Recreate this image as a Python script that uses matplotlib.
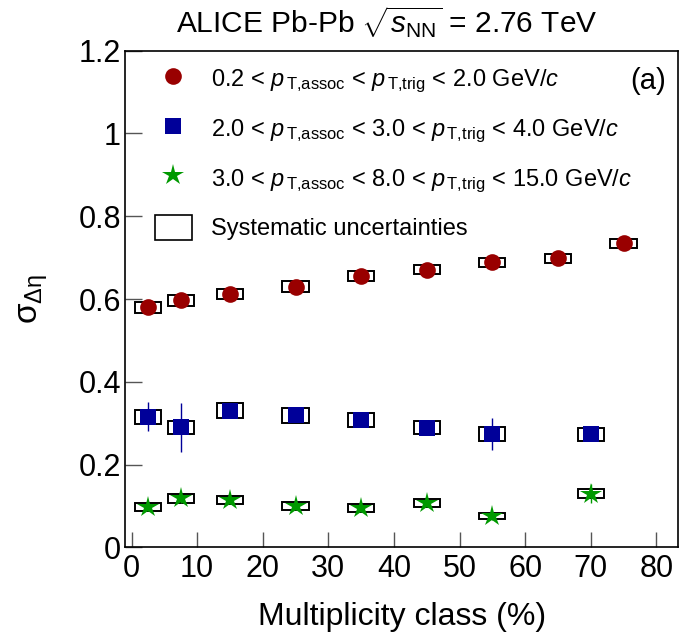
import matplotlib
matplotlib.use('Agg')
import matplotlib.pyplot as plt
import numpy as np
from matplotlib.lines import Line2D
from matplotlib.patches import Rectangle
from matplotlib.ticker import FuncFormatter

plt.rcParams['font.family'] = ['Liberation Sans', 'DejaVu Sans']
plt.rcParams['mathtext.fontset'] = 'custom'
plt.rcParams['mathtext.rm'] = 'Liberation Sans'
plt.rcParams['mathtext.it'] = 'Liberation Sans:italic'
plt.rcParams['mathtext.bf'] = 'Liberation Sans:bold'

# near-side peak width vs centrality, three pT bins
x_low = [2.5, 7.5, 15, 25, 35, 45, 55, 65, 75]
sig_low = [0.580, 0.597, 0.612, 0.630, 0.656, 0.671, 0.689, 0.699, 0.735]
stat_low = [0.005, 0.005, 0.005, 0.005, 0.005, 0.005, 0.005, 0.005, 0.005]
sys_low = [0.014, 0.013, 0.013, 0.013, 0.012, 0.011, 0.011, 0.011, 0.011]

x_mid = [2.5, 7.5, 15, 25, 35, 45, 55, 70]
sig_mid = [0.315, 0.290, 0.330, 0.319, 0.307, 0.289, 0.273, 0.273]
stat_mid = [0.035, 0.059, 0.010, 0.010, 0.010, 0.010, 0.039, 0.010]
sys_mid = [0.017, 0.016, 0.018, 0.018, 0.017, 0.016, 0.017, 0.015]

x_high = [2.5, 7.5, 15, 25, 35, 45, 55, 70]
sig_high = [0.098, 0.118, 0.114, 0.100, 0.095, 0.107, 0.075, 0.130]
stat_high = [0.010, 0.010, 0.010, 0.010, 0.010, 0.010, 0.008, 0.022]
sys_high = [0.010, 0.011, 0.010, 0.010, 0.009, 0.010, 0.007, 0.012]

box_halfwidth = 2.0

labels = [
    r'0.2 < $p_{\,\mathrm{T{,}assoc}}$ < $p_{\,\mathrm{T{,}trig}}$ < 2.0 GeV/$c$',
    r'2.0 < $p_{\,\mathrm{T{,}assoc}}$ < 3.0 < $p_{\,\mathrm{T{,}trig}}$ < 4.0 GeV/$c$',
    r'3.0 < $p_{\,\mathrm{T{,}assoc}}$ < 8.0 < $p_{\,\mathrm{T{,}trig}}$ < 15.0 GeV/$c$',
    'Systematic uncertainties',
]
colors = ['#990000', '#000099', '#009900']
markers = ['o', 's', '*']
msizes = [12, 12, 16]

fig = plt.figure(figsize=(6.79, 6.34), dpi=100)
ax = fig.add_axes([0.1845, 0.1367, 0.8145, 0.7833])

series = [(x_low, sig_low, stat_low, sys_low),
          (x_mid, sig_mid, stat_mid, sys_mid),
          (x_high, sig_high, stat_high, sys_high)]

for (xs, ys, st, sy), c, m, ms in zip(series, colors, markers, msizes):
    for xi, yi, si in zip(xs, ys, sy):
        ax.add_patch(Rectangle((xi - box_halfwidth, yi - si), 2 * box_halfwidth, 2 * si,
                               facecolor='none', edgecolor='black', lw=1.4, zorder=2))
    ax.errorbar(xs, ys, yerr=st, fmt='none', ecolor=c, elinewidth=1.0, capsize=0, zorder=3)
    ax.plot(xs, ys, ls='none', marker=m, color=c, markersize=ms, markeredgewidth=0, zorder=4)

ax.set_xlim(-0.95, 83.35)
ax.set_ylim(0, 1.2)
ax.set_xticks(np.arange(0, 81, 10))
ax.set_yticks([0, 0.2, 0.4, 0.6, 0.8, 1.0, 1.2])
ax.yaxis.set_major_formatter(FuncFormatter(lambda v, p: f'{v:g}'))
ax.tick_params(axis='both', direction='in', labelsize=22, width=1.0, color='#555555')
ax.tick_params(axis='x', length=11, pad=5)
ax.tick_params(axis='y', length=12, pad=3)
for sp in ax.spines.values():
    sp.set_linewidth(1.2)

ax.set_xlabel('Multiplicity class (%)', fontsize=23, labelpad=13)
ax.set_ylabel(r'$\mathrm{\sigma}_{\mathrm{\Delta\eta}}$', fontsize=24)
ax.yaxis.set_label_coords(-0.136, 0.5)

fig.text(0.57, 0.965, r'ALICE Pb-Pb $\sqrt{s_{\mathrm{NN}}}$ = 2.76 TeV',
         ha='center', va='center', fontsize=21.5)
ax.text(0.977, 0.94, '(a)', transform=ax.transAxes, ha='right', va='center', fontsize=21)

handles = [Line2D([], [], ls='none', marker=m, color=c, markersize=ms, markeredgewidth=0)
           for c, m, ms in zip(colors, markers, msizes)]
handles.append(Rectangle((0, 0), 1, 1, facecolor='white', edgecolor='black', lw=1.2))
ax.legend(handles, labels, loc='upper left', bbox_to_anchor=(0.045, 0.98), frameon=False,
          fontsize=17, handlelength=1.57, handleheight=1.3, handletextpad=0.8,
          labelspacing=0.85, borderaxespad=0, borderpad=0.2)

fig.savefig('out.png', dpi=100)
